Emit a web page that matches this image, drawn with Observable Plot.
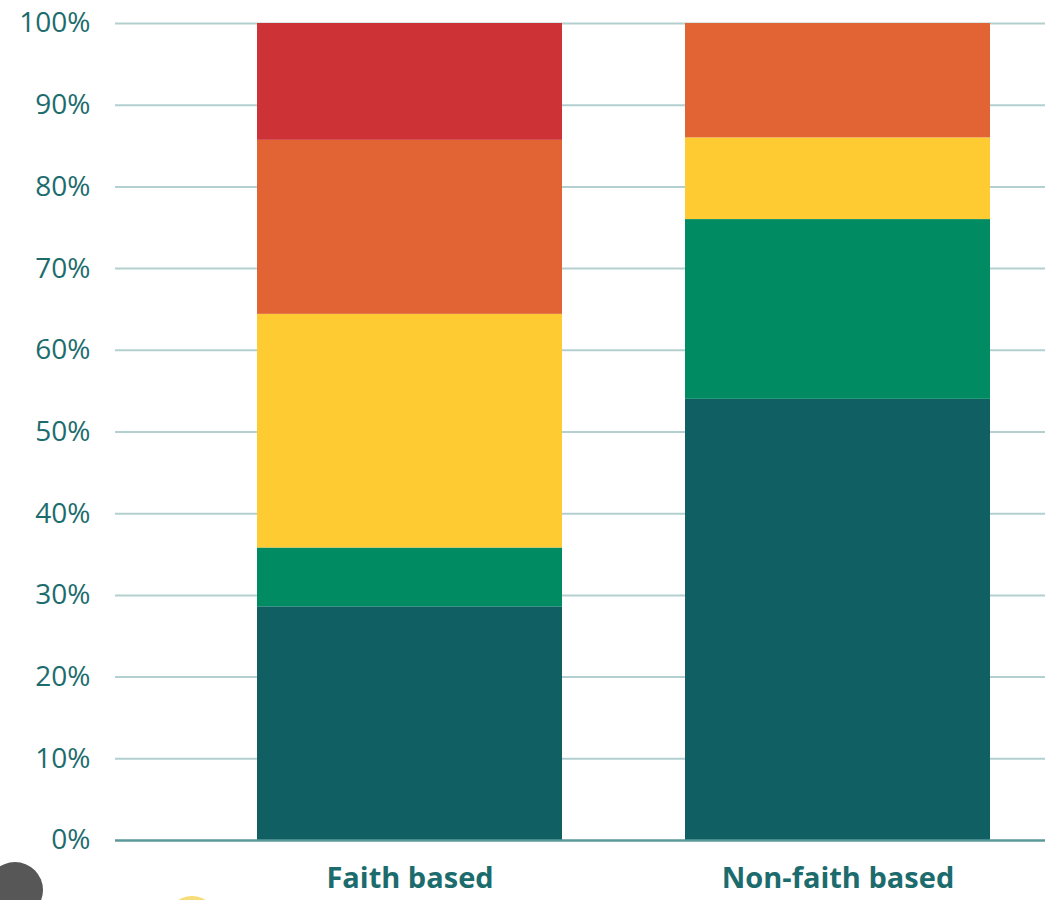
<!DOCTYPE html>
<html>
<head>
<meta charset="utf-8">
<script src="https://cdn.jsdelivr.net/npm/d3@7"></script>
<script src="https://cdn.jsdelivr.net/npm/@observablehq/plot@0.6"></script>
<style>
  html, body { margin: 0; padding: 0; background: #fff; overflow: hidden; }
  #wrap { position: relative; width: 1045px; height: 900px; }
  #chart svg { display: block; }
  .deco { position: absolute; border-radius: 50%; }
</style>
</head>
<body>
<div id="wrap">
  <div id="chart"></div>
  <div class="deco" style="left:-13px;top:862px;width:56px;height:56px;background:#575757;"></div>
  <div class="deco" style="left:166px;top:896px;width:52px;height:52px;background:#f8dc78;"></div>
</div>
<script>
// Categories (bars)
const groups = ["Faith based", "Non-faith based"];
// Stack segments, bottom to top
const series = ["Level 1", "Level 2", "Level 3", "Level 4", "Level 5"];
const seriesColors = ["#0f5f63", "#008b62", "#fecb33", "#e26434", "#cd3237"];
// Percent values per segment (same order as series)
const faithValues = [28.6, 7.2, 28.6, 21.3, 14.3];
const nonFaithValues = [54.0, 22.0, 10.0, 14.0, 0];
// Y tick values
const yTicks = [0, 10, 20, 30, 40, 50, 60, 70, 80, 90, 100];

const rows = [];
series.forEach((s, i) => {
  rows.push({group: groups[0], series: s, value: faithValues[i]});
  rows.push({group: groups[1], series: s, value: nonFaithValues[i]});
});

const teal = "#1d6c6d";

const chart = Plot.plot({
  width: 1045,
  height: 900,
  marginTop: 23,
  marginBottom: 60,
  marginLeft: 115,
  marginRight: 0,
  style: {fontFamily: "'Open Sans', Lato, sans-serif", fontSize: "28px", color: teal, background: "#fff"},
  x: {domain: groups, range: [256, 990], paddingInner: 0.288, paddingOuter: 0, axis: null},
  y: {domain: [0, 100], axis: null},
  color: {domain: series, range: seriesColors},
  marks: [
    Plot.ruleY(yTicks.filter(d => d > 0), {stroke: "#b4cfd0", strokeWidth: 2}),
    Plot.barY(rows, Plot.stackY({x: "group", y: "value", fill: "series", order: series})),
    Plot.ruleY([0], {stroke: "#5b9898", strokeWidth: 2.5}),
    Plot.axisY({ticks: yTicks, tickSize: 0, tickPadding: 25, tickFormat: d => d + "%", fontSize: 28, fill: teal, label: null}),
    Plot.axisX({tickSize: 0, tickPadding: 27, fontSize: 29, fontWeight: "bold", fill: teal, label: null})
  ]
});
document.getElementById("chart").appendChild(chart);
</script>
</body>
</html>
